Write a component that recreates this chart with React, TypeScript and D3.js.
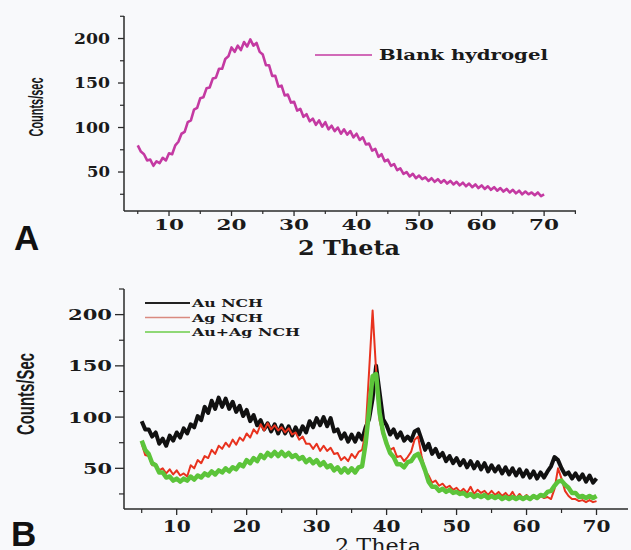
import React from "react";
import * as d3 from "d3";

const W = 631;
const H = 550;

// 2θ grid: 5° to 70° in 0.5° steps
const THETA_START = 5;
const THETA_STEP = 0.5;

// Panel A – Blank hydrogel (counts/sec)
const blankHydrogel = [
  80, 73, 70, 63, 64, 57, 62, 60, 66, 63,
  71, 70, 80, 84, 93, 95, 106, 108, 120, 122,
  133, 134, 144, 145, 155, 156, 166, 166, 177, 180,
  190, 185, 192, 187, 196, 191, 199, 192, 195, 185,
  182, 170, 170, 158, 158, 146, 147, 136, 137, 128,
  129, 119, 121, 112, 115, 107, 110, 103, 108, 101,
  106, 98, 102, 96, 100, 93, 98, 92, 96, 89,
  93, 86, 89, 81, 82, 74, 76, 67, 70, 62,
  64, 57, 59, 52, 54, 48, 50, 45, 48, 43,
  46, 42, 44, 40, 43, 39, 42, 38, 41, 37,
  40, 36, 39, 35, 38, 34, 37, 33, 36, 32,
  35, 31, 34, 30, 33, 29, 32, 28, 31, 27,
  30, 26, 29, 25, 28, 25, 27, 24, 27, 23,
  25,
];

// Panel B series
const auNCH = [
  96, 88, 88, 81, 85, 74, 79, 72, 82, 77,
  85, 80, 89, 84, 93, 90, 101, 97, 110, 104,
  116, 108, 119, 110, 118, 108, 115, 105, 111, 101,
  107, 96, 102, 92, 97, 88, 94, 86, 93, 84,
  92, 84, 91, 82, 90, 83, 91, 85, 96, 90,
  99, 92, 100, 91, 99, 86, 88, 79, 84, 76,
  83, 76, 84, 78, 90, 98, 118, 150, 124, 98,
  92, 83, 88, 80, 85, 77, 81, 77, 86, 88,
  78, 68, 74, 64, 69, 61, 65, 57, 62, 55,
  60, 53, 58, 51, 57, 50, 56, 49, 55, 47,
  53, 47, 52, 45, 51, 44, 50, 43, 49, 42,
  48, 41, 47, 40, 46, 41, 47, 52, 61, 58,
  50, 44, 46, 40, 45, 39, 44, 37, 43, 36,
  40,
];

const agNCH = [
  74, 63, 62, 53, 54, 48, 50, 45, 49, 44,
  48, 43, 45, 42, 53, 50, 58, 55, 62, 60,
  68, 64, 72, 69, 75, 71, 78, 73, 80, 77,
  84, 80, 88, 84, 93, 87, 94, 88, 92, 87,
  90, 85, 89, 83, 85, 78, 81, 74, 74, 69,
  74, 67, 72, 67, 70, 64, 65, 58, 61, 57,
  64, 60, 66, 68, 86, 145, 204, 145, 97, 82,
  76, 68, 70, 61, 62, 57, 61, 66, 78, 81,
  62, 48, 43, 36, 38, 33, 35, 31, 33, 29,
  31, 27, 30, 26, 32, 25, 29, 26, 28, 24,
  28, 24, 27, 23, 26, 22, 27, 21, 25, 21,
  24, 20, 23, 20, 23, 21, 22, 20, 30, 50,
  40, 28, 23, 20, 20, 18, 19, 17, 19, 17,
  18,
];

const auAgNCH = [
  77, 68, 64, 55, 53, 46, 46, 41, 42, 38,
  40, 37, 40, 38, 42, 39, 43, 41, 45, 43,
  47, 44, 48, 46, 50, 47, 51, 49, 54, 52,
  58, 55, 60, 57, 63, 60, 65, 62, 66, 62,
  66, 62, 65, 61, 63, 59, 61, 56, 59, 55,
  58, 53, 56, 51, 53, 48, 51, 46, 50, 46,
  50, 46, 51, 52, 74, 107, 140, 142, 104, 85,
  74, 65, 61, 54, 54, 51, 56, 57, 62, 64,
  57, 48, 37, 32, 32, 28, 30, 27, 29, 26,
  27, 25, 26, 23, 25, 22, 24, 22, 24, 21,
  23, 21, 23, 20, 22, 20, 22, 20, 22, 20,
  22, 20, 23, 21, 24, 23, 27, 28, 33, 37,
  38, 34, 31, 26, 26, 22, 23, 21, 23, 21,
  23,
];

const legendA = ["Blank hydrogel"];
const legendB = ["Au NCH", "Ag NCH", "Au+Ag NCH"];

const xMajor = [10, 20, 30, 40, 50, 60, 70];
const xMinor = [5, 15, 25, 35, 45, 55, 65, 75];
const yMajor = [50, 100, 150, 200];
const yMinor = [25, 75, 125, 175, 225];

const toPoints = (vals: number[]) =>
  vals.map((v, i) => [THETA_START + i * THETA_STEP, v] as [number, number]);

const AXIS = "#2a2a2a";
const BG = "#f8f9fb";
const SERIF = "'DejaVu Serif', serif";
const SANS = "'Liberation Sans', Arial, sans-serif";

export default function App() {
  // Panel A scales
  const xA = d3.scaleLinear().domain([2.8, 75.1]).range([124, 576]);
  const yA = d3.scaleLinear().domain([6.2, 225.3]).range([211, 16]);
  // Panel B scales
  const xB = d3.scaleLinear().domain([2.47, 74.5]).range([124, 628]);
  const yB = d3.scaleLinear().domain([10.3, 225]).range([509, 289]);

  const lineA = d3.line<[number, number]>().x((d) => xA(d[0])).y((d) => yA(d[1]));
  const lineB = d3.line<[number, number]>().x((d) => xB(d[0])).y((d) => yB(d[1]));

  const inDom = (s: d3.ScaleLinear<number, number>, v: number) => {
    const [a, b] = s.domain();
    return v >= Math.min(a, b) - 1e-6 && v <= Math.max(a, b) + 1e-6;
  };

  const seriesB = [
    { name: legendB[0], data: auNCH, color: "#111111", width: 4, legColor: "#222", legW: 1.8 },
    { name: legendB[1], data: agNCH, color: "#e8321e", width: 2, legColor: "#d98a80", legW: 1.3 },
    { name: legendB[2], data: auAgNCH, color: "#5cc43a", width: 4.5, legColor: "#6ccc4a", legW: 1.6 },
  ];

  return (
    <div style={{ position: "fixed", left: 0, top: 0, width: W, height: H, background: BG }}>
      <svg width={W} height={H} style={{ display: "block" }}>
        <rect x={0} y={0} width={W} height={H} fill={BG} />

        {/* ===== Panel A ===== */}
        <g>
          <path d={lineA(toPoints(blankHydrogel)) || ""} fill="none" stroke="#c43aa2" strokeWidth={2.6} strokeLinejoin="round" />
          {/* axes */}
          <line x1={124} x2={124} y1={16} y2={211} stroke={AXIS} strokeWidth={1.5} />
          <line x1={124} x2={576} y1={211} y2={211} stroke={AXIS} strokeWidth={1.5} />
          {xMajor.filter((v) => inDom(xA, v)).map((v) => (
            <g key={"axM" + v}>
              <line x1={xA(v)} x2={xA(v)} y1={211} y2={216} stroke={AXIS} strokeWidth={1.3} />
              <text x={xA(v) - 15} y={230} textLength={30} lengthAdjust="spacingAndGlyphs"
                fontFamily={SERIF} fontWeight="bold" fontSize={15} fill="#1a1a1a">{v}</text>
            </g>
          ))}
          {xMinor.filter((v) => inDom(xA, v)).map((v) => (
            <line key={"axm" + v} x1={xA(v)} x2={xA(v)} y1={211} y2={214} stroke={AXIS} strokeWidth={1.2} />
          ))}
          {yMajor.filter((v) => inDom(yA, v)).map((v) => {
            const len = String(v).length === 3 ? 36 : 23;
            return (
              <g key={"ayM" + v}>
                <line x1={118} x2={124} y1={yA(v)} y2={yA(v)} stroke={AXIS} strokeWidth={1.3} />
                <text x={110 - len} y={yA(v) + 5} textLength={len} lengthAdjust="spacingAndGlyphs"
                  fontFamily={SERIF} fontWeight="bold" fontSize={15} fill="#1a1a1a">{v}</text>
              </g>
            );
          })}
          {yMinor.filter((v) => inDom(yA, v)).map((v) => (
            <line key={"aym" + v} x1={120} x2={124} y1={yA(v)} y2={yA(v)} stroke={AXIS} strokeWidth={1.2} />
          ))}
          {/* axis titles */}
          <text x={298} y={255} textLength={102} lengthAdjust="spacingAndGlyphs"
            fontFamily={SERIF} fontWeight="bold" fontSize={21} fill="#1a1a1a">2 Theta</text>
          <text transform="translate(43,107) rotate(-90)" x={0} y={0} textAnchor="middle"
            textLength={59} lengthAdjust="spacingAndGlyphs"
            fontFamily={SANS} fontWeight="bold" fontSize={20} fill="#1a1a1a">Counts/sec</text>
          <text x={14} y={250} fontFamily={SANS} fontWeight="bold" fontSize={35} fill="#111">A</text>
          {/* legend */}
          <line x1={315} x2={372} y1={55} y2={55} stroke="#c43aa2" strokeWidth={1.4} />
          <text x={379} y={60} textLength={169} lengthAdjust="spacingAndGlyphs"
            fontFamily={SERIF} fontWeight="bold" fontSize={15} fill="#1a1a1a">{legendA[0]}</text>
        </g>

        {/* ===== Panel B ===== */}
        <g>
          {seriesB.map((s) => (
            <path key={s.name} d={lineB(toPoints(s.data)) || ""} fill="none" stroke={s.color}
              strokeWidth={s.width} strokeLinejoin="round" />
          ))}
          <line x1={124} x2={124} y1={289} y2={509} stroke={AXIS} strokeWidth={1.5} />
          <line x1={124} x2={628} y1={509} y2={509} stroke={AXIS} strokeWidth={1.5} />
          {xMajor.filter((v) => inDom(xB, v)).map((v) => (
            <g key={"bxM" + v}>
              <line x1={xB(v)} x2={xB(v)} y1={509} y2={515} stroke={AXIS} strokeWidth={1.3} />
              <text x={xB(v) - 14} y={532} textLength={28} lengthAdjust="spacingAndGlyphs"
                fontFamily={SERIF} fontWeight="bold" fontSize={17} fill="#1a1a1a">{v}</text>
            </g>
          ))}
          {xMinor.filter((v) => inDom(xB, v)).map((v) => (
            <line key={"bxm" + v} x1={xB(v)} x2={xB(v)} y1={509} y2={513} stroke={AXIS} strokeWidth={1.2} />
          ))}
          {yMajor.filter((v) => inDom(yB, v)).map((v) => {
            const len = String(v).length === 3 ? 44 : 29;
            return (
              <g key={"byM" + v}>
                <line x1={115} x2={124} y1={yB(v)} y2={yB(v)} stroke={AXIS} strokeWidth={1.3} />
                <text x={112 - len} y={yB(v) + 5.5} textLength={len} lengthAdjust="spacingAndGlyphs"
                  fontFamily={SERIF} fontWeight="bold" fontSize={15} fill="#1a1a1a">{v}</text>
              </g>
            );
          })}
          {yMinor.filter((v) => inDom(yB, v)).map((v) => (
            <line key={"bym" + v} x1={119} x2={124} y1={yB(v)} y2={yB(v)} stroke={AXIS} strokeWidth={1.2} />
          ))}
          <text x={335} y={553} textLength={86} lengthAdjust="spacingAndGlyphs"
            fontFamily={SERIF} fontSize={20} fill="#1a1a1a">2 Theta</text>
          <text transform="translate(34,394) rotate(-90)" x={0} y={0} textAnchor="middle"
            textLength={82} lengthAdjust="spacingAndGlyphs"
            fontFamily={SANS} fontWeight="bold" fontSize={23} fill="#1a1a1a">Counts/Sec</text>
          <text x={11} y={546} fontFamily={SANS} fontWeight="bold" fontSize={35} fill="#111">B</text>
          {/* legend */}
          {seriesB.map((s, i) => {
            const ly = 303 + i * 14.5;
            const tl = i === 2 ? 108 : 71;
            return (
              <g key={"leg" + s.name}>
                <line x1={145} x2={190} y1={ly} y2={ly} stroke={s.legColor} strokeWidth={s.legW} />
                <text x={192} y={ly + 4} textLength={tl} lengthAdjust="spacingAndGlyphs"
                  fontFamily={SERIF} fontWeight="bold" fontSize={11} fill="#1a1a1a">{s.name}</text>
              </g>
            );
          })}
        </g>
      </svg>
    </div>
  );
}
